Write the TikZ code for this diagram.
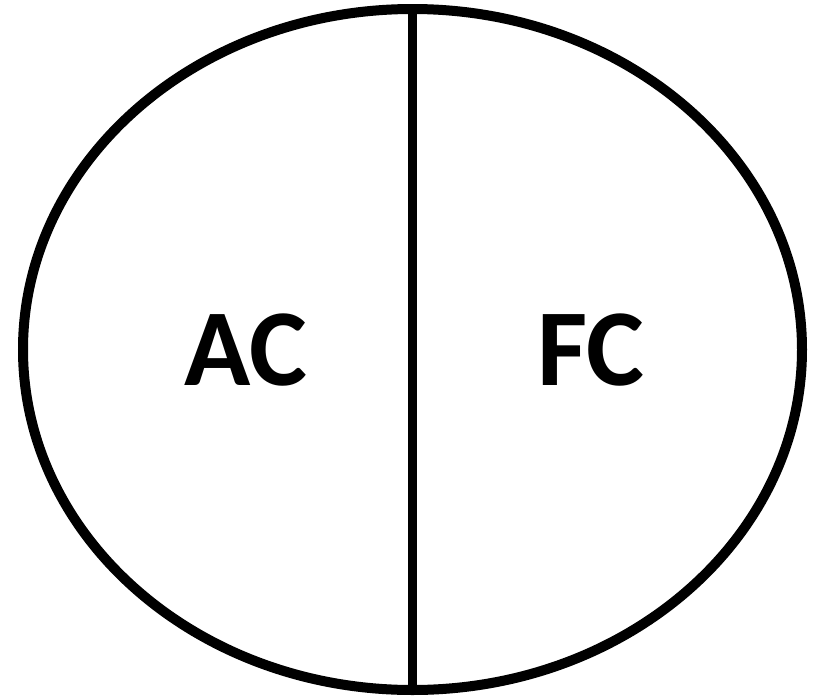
\documentclass[tikz,border=0pt]{standalone}
\usepackage{fontspec}
\setmainfont{Carlito}
\usetikzlibrary{shapes.geometric}

\begin{document}
\begin{tikzpicture}[x=0.75pt, y=-0.75pt,
    part/.style={font=\bfseries\fontsize{82}{90}\selectfont, inner sep=0pt}]
    \useasboundingbox (0,0) rectangle (815,697);

    % Outer ellipse
    \node[draw, ellipse, line width=7.5pt, inner sep=0pt,
          minimum width=584.25pt, minimum height=510.75pt] (cell) at (412.5,349.5) {};

    % Dividing line
    \draw[line width=6.5pt] (cell.north) -- (cell.south);

    % Labels
    \node[part] (ac) at (246,350) {AC};
    \node[part] (fc) at (591,350) {FC};
\end{tikzpicture}
\end{document}
